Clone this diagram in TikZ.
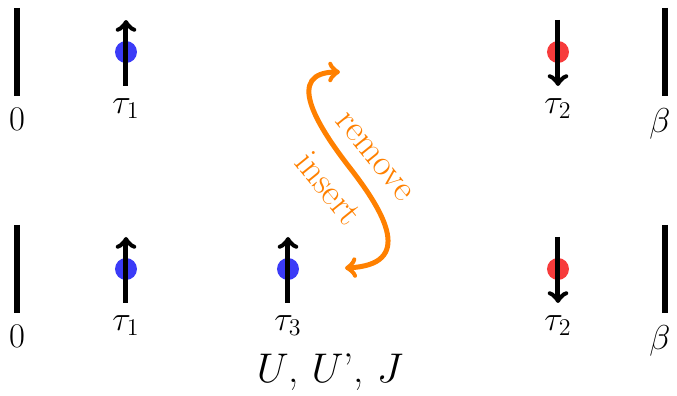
\documentclass[tikz,border=0pt]{standalone}
\usepackage{amsmath,amssymb}
\usepackage{xcolor}
\usepackage{tikz}
\usetikzlibrary{positioning}
\definecolor{SpinUp}{HTML}{3B3BF7}
\definecolor{SpinDn}{HTML}{F73B3B}
\definecolor{MoveOrange}{HTML}{FF8000}

\begin{document}
\begin{tikzpicture}[x=0.5pt,y=-0.5pt]
\useasboundingbox (0,0) rectangle (677,396);
\tikzset{edge/.style={line width=3pt},
  spin/.style={line width=2.5pt,->},
  dot/.style={circle,inner sep=0pt,minimum size=11pt},
  lbl/.style={font=\LARGE,inner sep=1pt},
  movetxt/.style={MoveOrange,font=\fontsize{18.5}{20}\selectfont,rotate=-51,inner sep=0pt}}
% top row
\coordinate (za) at (17,8); \coordinate (zb) at (17,96);
\coordinate (ba) at (665,8); \coordinate (bb) at (665,96);
\draw[edge] (za)--(zb);
\draw[edge] (ba)--(bb);
\node[lbl,below=5pt of zb] {$0$};
\node[lbl,below=5pt of bb,xshift=-2.5pt] {$\beta$};
\node[dot,fill=SpinUp] (u1) at (126,52) {};
\node[dot,fill=SpinDn] (d2) at (558,52) {};
\coordinate (u1t) at (126,86); \coordinate (u1h) at (126,20);
\coordinate (d2t) at (558,20); \coordinate (d2h) at (558,86);
\draw[spin] (u1t)--(u1h);
\draw[spin] (d2t)--(d2h);
\node[lbl,below=5pt of u1t] {$\tau_1$};
\node[lbl,below=5pt of d2h] {$\tau_2$};
% bottom row
\coordinate (zc) at (17,225); \coordinate (zd) at (17,313);
\coordinate (bc) at (665,225); \coordinate (bd) at (665,313);
\draw[edge] (zc)--(zd);
\draw[edge] (bc)--(bd);
\node[lbl,below=5pt of zd] {$0$};
\node[lbl,below=5pt of bd,xshift=-2.5pt] {$\beta$};
\node[dot,fill=SpinUp] (u3) at (126,269) {};
\node[dot,fill=SpinUp] (u4) at (288,269) {};
\node[dot,fill=SpinDn] (d5) at (558,269) {};
\coordinate (u3t) at (126,303); \coordinate (u3h) at (126,237);
\coordinate (u4t) at (288,303); \coordinate (u4h) at (288,237);
\coordinate (d5t) at (558,237); \coordinate (d5h) at (558,303);
\draw[spin] (u3t)--(u3h);
\draw[spin] (u4t)--(u4h);
\draw[spin] (d5t)--(d5h);
\node[lbl,below=5pt of u3t] {$\tau_1$};
\node[lbl,below=5pt of u4t] {$\tau_3$};
\node[lbl,below=5pt of d5h] {$\tau_2$};
\node[font=\huge] (int) at (330,372) {$U$, $U$'{}, $J$};
% move
\coordinate (mv1) at (340,72);
\coordinate (mv2) at (350,168);
\coordinate (mv3) at (345,268);
\draw[MoveOrange,line width=2.5pt,<->] (mv1) .. controls (285,72) and (315,123) .. (mv2)
  .. controls (385,213) and (415,265) .. (mv3);
\node[movetxt] (rm) at (374,157) {remove};
\node[movetxt] (ins) at (329,188) {insert};
\end{tikzpicture}
\end{document}
